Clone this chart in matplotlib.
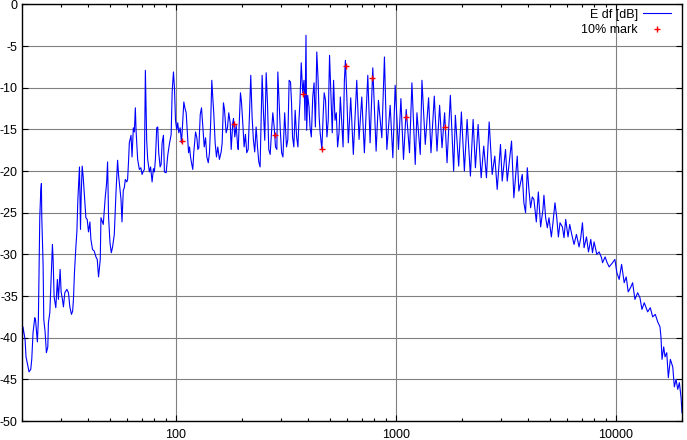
import matplotlib
matplotlib.use("Agg")
import matplotlib.pyplot as plt
from matplotlib import ticker

plt.rcParams["font.family"] = ["Liberation Sans", "DejaVu Sans"]
plt.rcParams["axes.unicode_minus"] = False

# ── E df curve (Hz, dB) ─────────────────────────────────────────────────────
freq_low = [20.0, 20.2, 20.65, 20.86, 21.53, 21.92, 22.15, 22.45, 22.86, 23.05,
            23.49, 23.74, 24.09, 24.34, 24.5, 24.6, 24.94, 25.12, 25.47, 25.82,
            26.2, 26.37, 26.76, 27.13, 27.32, 27.5, 27.7, 27.99, 28.49, 28.97,
            29.28, 29.81, 30.12, 30.53, 30.86, 31.31, 31.98, 32.52, 33.0, 33.56,
            33.98, 34.27, 34.63, 35.15, 35.52, 35.89, 36.27, 36.5, 36.89, 37.16,
            37.55, 37.95, 38.47, 39.03, 39.57, 40.11, 40.71, 41.14, 41.83, 42.59,
            43.36, 43.96, 44.56, 45.37, 45.7, 46.82, 47.81, 48.47, 48.98, 49.49,
            50.23, 50.92, 51.62, 52.55, 53.48, 54.39, 54.96, 56.37, 56.96, 57.74,
            58.35, 58.97, 59.91, 60.41, 61.05, 61.5, 62.61, 63.27, 64.14, 64.82,
            65.5, 65.99, 67.1, 68.31, 69.4, 70.27, 71.24, 71.99, 72.75, 73.29,
            73.75, 74.53, 75.87, 76.83, 78.05, 79.13, 79.96, 80.8, 81.92, 82.78,
            83.65, 84.89, 85.79, 86.69, 87.89, 88.81, 90.41, 91.94, 93.6, 95.28,
            96.28, 97.61, 98.64]
db_low = [-40.8, -38.7, -40.2, -42.3, -44.1, -43.8, -42.6, -39.4, -37.6, -37.9,
          -40.5, -37.8, -25.6, -22.3, -21.5, -25.5, -31.2, -37.8, -39.3, -41.8,
          -41.1, -38.2, -37.0, -32.7, -30.6, -28.8, -30.6, -35.1, -36.4, -33.0,
          -35.4, -31.8, -34.5, -35.4, -36.3, -34.6, -34.2, -34.6, -36.3, -37.2,
          -36.8, -35.4, -32.2, -29.1, -27.3, -23.4, -20.8, -19.5, -27.0, -22.9,
          -19.4, -20.7, -23.1, -25.6, -25.8, -27.3, -26.1, -28.2, -29.4, -29.6,
          -30.3, -30.6, -32.7, -30.6, -25.6, -26.4, -23.1, -21.5, -18.9, -25.5,
          -28.6, -29.8, -29.1, -27.6, -22.6, -18.7, -20.5, -23.4, -26.1, -22.3,
          -22.0, -21.0, -21.3, -21.0, -18.6, -16.6, -15.7, -18.3, -14.8, -15.3,
          -12.4, -15.1, -18.6, -19.8, -19.6, -20.4, -20.0, -19.8, -7.9, -12.6,
          -16.3, -18.6, -20.1, -19.5, -21.3, -19.7, -20.1, -18.6, -14.8, -14.7,
          -17.8, -19.5, -19.2, -16.6, -15.7, -20.1, -20.2, -18.1, -16.7, -15.6,
          -10.5, -8.1, -10.0]

freq_mid = [99.7, 101.0, 102.1, 103.2, 104.7, 106.2, 107.6, 108.8, 110.0, 111.5,
            112.7, 114.3, 115.5, 116.7, 117.9, 119.5, 120.7, 123.0, 124.7, 126.0,
            127.3, 129.2, 130.9, 132.7, 134.7, 136.6, 138.4, 140.5, 142.3, 144.2,
            145.8, 147.3, 148.8, 151.0, 153.1, 155.2, 157.9, 160.8, 162.5, 164.7,
            166.5, 169.4, 171.8, 174.1, 176.7, 178.6, 181.6, 183.0, 185.5, 188.2,
            190.8, 192.2, 194.8, 196.8, 198.9, 201.6, 204.5, 207.3, 210.2, 213.3,
            216.3, 219.2, 222.3, 225.3, 228.5, 231.9, 235.2, 238.4, 241.7, 244.3,
            246.9, 250.4, 253.8, 257.6, 261.1, 264.7, 268.6, 272.3, 276.1, 280.1,
            284.0, 288.0, 291.0, 294.8, 298.6, 302.8, 307.0, 312.6, 318.7, 323.1,
            327.5, 332.3, 335.9, 339.4, 344.1, 348.9, 354.2, 359.1, 362.9, 366.7,
            371.8, 377.4, 382.6, 386.7, 390.8, 393.6, 397.8, 403.3, 407.6, 413.2,
            419.4, 425.2, 431.1, 437.5, 443.6, 448.4, 453.2, 461.4, 467.8, 472.7,
            479.4, 486.5, 493.2, 500.0, 507.4, 514.4, 521.5, 529.3, 536.6, 544.0,
            552.1, 559.8, 567.5, 576.0, 584.0, 590.3, 599.8]
db_mid = [-13.9, -15.0, -14.2, -15.4, -14.8, -16.6, -13.9, -11.7, -12.4, -13.0,
          -15.0, -17.8, -17.1, -18.3, -19.0, -19.8, -17.8, -15.3, -16.0, -17.4,
          -17.2, -13.2, -12.4, -14.7, -17.1, -16.0, -18.3, -19.0, -17.8, -13.9,
          -9.1, -11.2, -13.0, -16.6, -18.3, -17.1, -18.6, -17.7, -16.6, -11.8,
          -12.6, -15.4, -14.8, -13.0, -14.2, -17.4, -14.2, -13.7, -15.9, -14.5,
          -16.8, -17.4, -13.5, -10.6, -11.7, -14.2, -17.1, -15.6, -17.8, -17.4,
          -13.2, -8.5, -13.5, -16.2, -17.7, -14.7, -17.1, -18.9, -19.5, -13.9,
          -8.5, -13.0, -16.3, -8.2, -11.8, -17.4, -18.0, -15.4, -13.0, -14.7,
          -17.1, -17.4, -8.1, -11.5, -15.1, -17.8, -18.3, -13.0, -17.1, -16.2,
          -9.1, -9.3, -11.8, -15.9, -17.1, -12.7, -15.9, -17.1, -13.9, -11.8,
          -7.0, -10.6, -9.1, -13.9, -3.7, -15.1, -10.9, -12.3, -14.7, -15.9,
          -11.1, -9.4, -14.7, -5.7, -9.1, -13.5, -15.4, -17.4, -13.2, -10.6,
          -11.5, -15.9, -13.9, -6.1, -11.1, -15.4, -9.1, -13.9, -13.0, -17.1,
          -15.4, -11.1, -13.9, -17.1, -9.1, -6.7, -11.5]

freq_high = [608.6, 624.1, 641.3, 664.7, 680.9, 700.5, 719.9, 746.1, 764.3, 786.2,
             814.0, 833.9, 864.2, 888.1, 910.8, 942.9, 969.9, 993.7, 1028.8, 1055.1,
             1084.2, 1115.4, 1154.7, 1184.1, 1225.9, 1248.0, 1292.0, 1315.3, 1361.6, 1409.6,
             1445.6, 1496.5, 1539.5, 1582.2, 1622.5, 1667.4, 1710.1, 1770.3, 1832.7, 1865.7,
             1931.5, 1987.1, 2050.6, 2109.6, 2184.0, 2246.6, 2301.6, 2367.8, 2443.7, 2511.1,
             2583.4, 2657.7, 2742.7, 2818.6, 2890.7, 2992.6, 3046.4, 3153.8, 3210.7, 3359.1,
             3440.9, 3566.1, 3626.5, 3758, 3822, 3891, 3961, 4028, 4101, 4174,
             4245, 4354, 4446, 4555, 4666, 4715, 4800, 4886, 4969, 5096,
             5182, 5292, 5388, 5485, 5578, 5720, 5817, 5921, 6067, 6175,
             6307, 6461, 6626, 6809, 6932, 7056, 7176, 7360, 7516, 7699,
             7838, 7970, 8200, 8400, 8615, 8705, 8946, 9107, 9330, 9669,
             9906, 10116, 10363, 10628, 10921, 11154, 11390, 11717, 11928, 12220,
             12572, 12878, 13152, 13473, 13963, 14350, 14716, 15123, 15509, 15887,
             16056, 16225, 16516, 16744, 17047, 17336, 17703, 18154, 18461, 18794,
             19133, 19457, 19808, 20000]
db_high = [-16.6, -11.2, -18.0, -9.1, -16.2, -11.1, -17.8, -8.5, -16.6, -7.6,
           -17.6, -11.5, -16.0, -6.3, -17.4, -12.1, -18.4, -9.7, -17.4, -11.3,
           -18.6, -12.6, -17.8, -9.4, -19.2, -13.0, -18.0, -9.1, -16.8, -11.2,
           -17.8, -11.0, -17.6, -12.1, -17.2, -13.0, -19.0, -10.9, -20.0, -13.3,
           -19.4, -12.9, -20.0, -13.8, -20.6, -13.8, -19.6, -14.4, -20.8, -17.0,
           -20.8, -14.1, -20.4, -18.2, -22.2, -16.8, -21.2, -17.4, -21.2, -16.4,
           -23.2, -18.2, -22.4, -20.4, -23.8, -25.0, -19.6, -22.2, -24.4, -23.1,
           -23.4, -26.1, -22.5, -26.7, -24.6, -22.9, -25.6, -26.8, -25.6, -27.9,
           -26.2, -23.8, -25.5, -27.9, -26.2, -26.7, -28.0, -25.8, -27.9, -26.4,
           -27.6, -28.8, -27.6, -29.1, -28.0, -26.2, -29.2, -27.9, -29.7, -28.2,
           -29.8, -28.5, -30.0, -29.7, -30.4, -31.0, -30.3, -30.9, -31.5, -31.0,
           -30.6, -32.2, -33.0, -31.2, -33.4, -32.7, -34.5, -33.9, -33.4, -35.4,
           -34.6, -35.2, -36.6, -35.8, -36.9, -36.4, -37.5, -37.2, -38.1, -38.7,
           -40.0, -42.6, -41.1, -42.3, -41.8, -44.8, -42.6, -43.5, -45.9, -45.0,
           -46.2, -45.4, -47.2, -49.0]

# ── 10% marks ───────────────────────────────────────────────────────────────
mark_freq = [106.2, 183.0, 282.8, 377.4, 461.4, 592.2, 783.0, 1115.4, 1679.7]
mark_db = [-16.4, -14.3, -15.7, -10.7, -17.4, -7.4, -8.8, -13.5, -14.7]

x_ticks = [100, 1000, 10000]
y_ticks = list(range(-50, 1, 5))

freq = freq_low + freq_mid + freq_high
db = db_low + db_mid + db_high

fig = plt.figure(figsize=(6.87, 4.40), dpi=100)
ax = fig.add_axes([22 / 687, 19 / 440, 660 / 687, 416.5 / 440])

ax.plot(freq, db, color="#0000ff", lw=0.8, label="E df [dB]")
ax.plot(mark_freq, mark_db, ls="none", marker="+", ms=5, mew=1.0,
        color="red", label="10% mark")

ax.set_xscale("log")
ax.set_xlim(20, 20000)
ax.set_ylim(-50, 0)
ax.set_xticks(x_ticks)
ax.xaxis.set_major_formatter(ticker.FuncFormatter(lambda v, p: f"{v:g}"))
ax.xaxis.set_minor_formatter(ticker.NullFormatter())
ax.set_yticks(y_ticks)
ax.set_yticklabels([str(v) for v in y_ticks])

ax.grid(True, which="major", color="#808080", lw=0.8)
ax.set_axisbelow(True)
for s in ax.spines.values():
    s.set_linewidth(1.0)

ax.tick_params(which="both", direction="in", top=True, right=True,
               labelsize=9, width=0.8, color="black")
ax.tick_params(which="major", length=4.3)
ax.tick_params(which="minor", length=2.2)
ax.tick_params(axis="x", pad=6)
ax.tick_params(axis="y", pad=3)

ax.legend(loc="upper right", bbox_to_anchor=(0.984, 0.99), frameon=False,
          markerfirst=False, fontsize=9, handlelength=2.3, handletextpad=0.4,
          labelspacing=0.3, borderaxespad=0, borderpad=0)

fig.savefig("out.png", dpi=100)
